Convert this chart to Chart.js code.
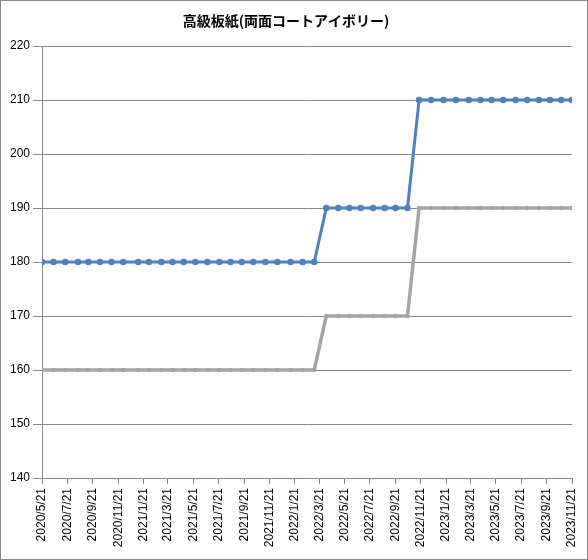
<!DOCTYPE html>
<html>
<head>
<meta charset="utf-8">
<script src="https://cdn.jsdelivr.net/npm/chart.js@4/dist/chart.umd.min.js"></script>
<style>
  html, body { margin: 0; padding: 0; background: #fff; }
  #wrap { width: 588px; height: 560px; position: relative; }
</style>
</head>
<body>
<div id="wrap"><canvas id="c" width="588" height="560"></canvas></div>
<script>
const chartTitle = '高級板紙(両面コートアイボリー)';

const dates = [
  '2020/5/21','2020/6/18','2020/7/16','2020/8/16','2020/9/10','2020/10/8','2020/11/5','2020/12/3',
  '2021/1/8','2021/2/3','2021/3/5','2021/4/1','2021/4/28','2021/5/26','2021/6/24','2021/7/23',
  '2021/8/19','2021/9/15','2021/10/13','2021/11/11','2021/12/10','2022/1/11','2022/2/9','2022/3/9',
  '2022/4/7','2022/5/6','2022/6/2','2022/6/29','2022/7/29','2022/8/26','2022/9/21','2022/10/20',
  '2022/11/17','2022/12/16','2023/1/15','2023/2/14','2023/3/17','2023/4/14','2023/5/11','2023/6/8',
  '2023/7/8','2023/8/5','2023/9/2','2023/9/29','2023/10/26','2023/11/21'
];

const seriesBlue = [
  180,180,180,180,180,180,180,180,
  180,180,180,180,180,180,180,180,
  180,180,180,180,180,180,180,180,
  190,190,190,190,190,190,190,190,
  210,210,210,210,210,210,210,210,
  210,210,210,210,210,210
];

const seriesGray = [
  160,160,160,160,160,160,160,160,
  160,160,160,160,160,160,160,160,
  160,160,160,160,160,160,160,160,
  170,170,170,170,170,170,170,170,
  190,190,190,190,190,190,190,190,
  190,190,190,190,190,190
];

const xTickLabels = [
  '2020/5/21','2020/7/21','2020/9/21','2020/11/21','2021/1/21','2021/3/21','2021/5/21','2021/7/21',
  '2021/9/21','2021/11/21','2022/1/21','2022/3/21','2022/5/21','2022/7/21','2022/9/21','2022/11/21',
  '2023/1/21','2023/3/21','2023/5/21','2023/7/21','2023/9/21','2023/11/21'
];

const yMin = 140, yMax = 220, yStep = 10;

function dayNum(s) {
  const p = s.split('/').map(Number);
  return Date.UTC(p[0], p[1] - 1, p[2]) / 86400000;
}

const toPoints = vals => vals.map((v, i) => ({ x: dayNum(dates[i]), y: v }));

const frame = {
  id: 'frame',
  beforeDraw(chart) {
    const ctx = chart.ctx;
    ctx.save();
    ctx.fillStyle = '#ffffff';
    ctx.fillRect(0, 0, chart.width, chart.height);
    ctx.restore();
  },
  afterDraw(chart) {
    const ctx = chart.ctx;
    ctx.save();
    ctx.strokeStyle = '#888888';
    ctx.lineWidth = 1;
    ctx.strokeRect(0.5, 0.5, chart.width - 1, chart.height - 1);
    ctx.restore();
  }
};

Chart.defaults.font.family = '"Liberation Sans", Arial, sans-serif';
Chart.defaults.font.size = 12;
Chart.defaults.color = '#000000';

new Chart(document.getElementById('c'), {
  type: 'line',
  data: {
    datasets: [
      {
        label: 'A',
        data: toPoints(seriesBlue),
        borderColor: '#4F81BD',
        backgroundColor: '#4F81BD',
        borderWidth: 3,
        pointRadius: 3.3,
        pointBorderWidth: 0,
        pointHoverRadius: 3.3,
        tension: 0
      },
      {
        label: 'B',
        data: toPoints(seriesGray),
        borderColor: '#A5A5A5',
        backgroundColor: '#A5A5A5',
        borderWidth: 3.5,
        pointRadius: 2.2,
        pointBorderWidth: 0,
        pointHoverRadius: 2.2,
        tension: 0
      }
    ]
  },
  options: {
    responsive: false,
    animation: false,
    devicePixelRatio: 1,
    layout: { padding: { left: 0, right: 16, top: 0, bottom: 0 } },
    plugins: {
      legend: { display: false },
      tooltip: { enabled: false },
      title: {
        display: true,
        text: chartTitle,
        color: '#000000',
        font: { family: '"Noto Sans CJK JP", sans-serif', size: 14, weight: 'bold', lineHeight: 1.2 },
        padding: { top: 12.6, bottom: 16.6 }
      }
    },
    scales: {
      x: {
        type: 'linear',
        min: dayNum(xTickLabels[0]),
        max: dayNum(xTickLabels[xTickLabels.length - 1]),
        afterBuildTicks(scale) {
          scale.ticks = xTickLabels.map(t => ({ value: dayNum(t) }));
        },
        afterFit(scale) {
          scale.height = 82;
          scale.paddingLeft = 0;
          scale.paddingRight = 0;
        },
        grid: {
          drawOnChartArea: false,
          drawTicks: true,
          tickLength: 6,
          color: '#868686',
          lineWidth: 1
        },
        border: { display: true, color: '#868686', width: 1 },
        ticks: {
          autoSkip: false,
          minRotation: 90,
          maxRotation: 90,
          padding: 4,
          font: { size: 12 },
          callback: (v, i) => xTickLabels[i]
        }
      },
      y: {
        min: yMin,
        max: yMax,
        afterFit(scale) { scale.width = 42; },
        grid: {
          color: '#868686',
          lineWidth: 1,
          tickLength: 9,
          drawTicks: true
        },
        border: { display: true, color: '#868686', width: 1 },
        ticks: {
          stepSize: yStep,
          padding: 3,
          font: { size: 12 }
        }
      }
    }
  },
  plugins: [frame]
});
</script>
</body>
</html>
